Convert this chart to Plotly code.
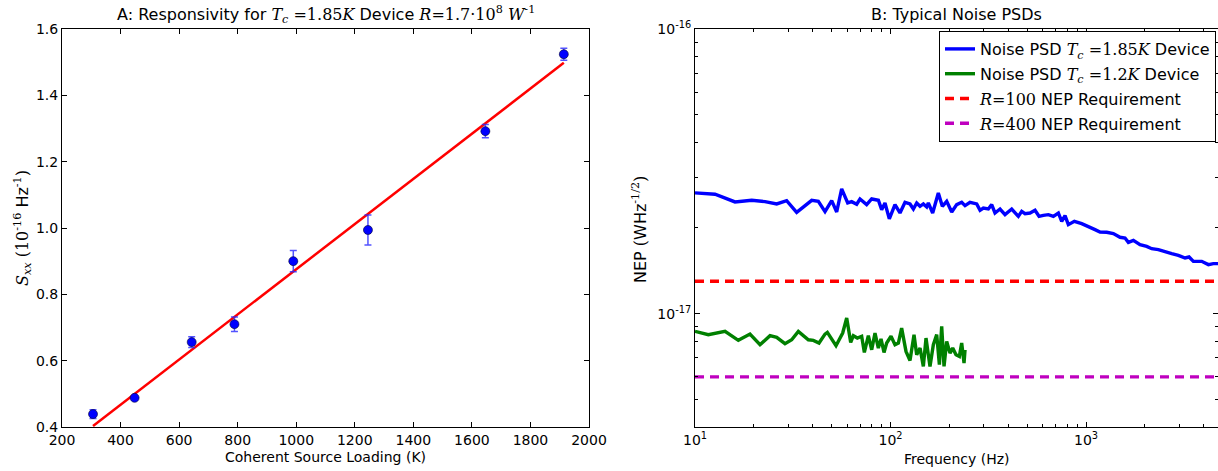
import plotly.graph_objects as go

# ---------------- Panel A: responsivity ----------------
loading_K = [306, 448, 643, 789, 990, 1245, 1646, 1914]
sxx = [0.439, 0.488, 0.656, 0.710, 0.900, 0.994, 1.292, 1.524]
sxx_err = [0.013, 0.005, 0.016, 0.022, 0.032, 0.045, 0.020, 0.018]
fit_K = [306, 1914]
fit_sxx = [0.403, 1.498]

# ---------------- Panel B: noise PSDs (NEP in units of 1e-17 W/Hz^0.5) ----------------
freq_185 = [10, 12.66, 16.02, 19.50, 22.81, 26.17, 29.43, 33.11, 39.53, 42.74, 46.24, 50.02, 53.05,
            56.26, 60.39, 63.30, 67.14,
            69.8, 75.5, 80.1, 86.7, 90.1, 93.7, 98.6, 105.4, 111.8, 118.6,
            125.8, 130.9, 136.1, 141.6, 147.2, 153.1, 156.1, 164.3, 175.6, 184.1,
            193.8, 205.6, 218.0, 231.2, 240.5, 255.0, 276.0, 287.0, 298.4, 316.5,
            329.2, 342.3, 363.2, 385.2, 416.8, 450.7, 468.8, 487.5, 517.1, 548.4,
            575.0, 605.1, 641.8, 680.7, 722.0, 750.9, 780.8, 812.1, 871.5, 950.2,
            1027.8, 1111.7, 1179.2, 1275.6, 1379.8, 1492.5, 1583.1, 1646.4, 1746.5, 1889.2,
            2043.6, 2167.7, 2344.2, 2535.7, 2742.6, 2966.8, 3209.2, 3365.0, 3540.8, 3906.0,
            4225.3, 4479.6, 4733]
nep_185 = [2.656, 2.627, 2.469, 2.502, 2.475, 2.429, 2.495, 2.271, 2.502, 2.482, 2.283, 2.495, 2.277,
           2.744, 2.449, 2.475, 2.423,
           2.529, 2.416, 2.529, 2.502, 2.320, 2.449, 2.152, 2.416, 2.258, 2.462,
           2.429, 2.332, 2.449, 2.384, 2.429, 2.371, 2.449, 2.258, 2.656, 2.384,
           2.482, 2.277, 2.416, 2.462, 2.397, 2.462, 2.429, 2.307, 2.351, 2.332,
           2.416, 2.258, 2.332, 2.228, 2.332, 2.198, 2.289, 2.246, 2.258, 2.307,
           2.198, 2.216, 2.228, 2.198, 2.258, 2.111, 2.210, 2.055, 2.111, 2.071,
           2.028, 1.974, 1.937, 1.932, 1.911, 1.855, 1.845, 1.781, 1.810, 1.748,
           1.724, 1.692, 1.679, 1.647, 1.625, 1.603, 1.569, 1.582, 1.527, 1.527,
           1.487, 1.499, 1.499]

freq_12 = [10, 11.70, 14.24, 16.66, 19.11, 21.50, 24.19, 26.17, 28.86, 31.23, 33.77, 37.99, 40.30,
           43.09, 46.24,
           47.53, 52.63, 56.93, 59.68, 62.56, 64.55, 67.66, 71.21, 73.48, 77.02,
           80.12, 83.30, 86.65, 89.41, 92.63, 95.59, 100.6, 105.4, 109.7, 114.0,
           120.0, 125.8, 131.9, 136.1, 141.6, 147.2, 151.9, 156.1, 159.2, 165.6,
           172.3, 177.8, 182.7, 187.8, 193.8, 201.5, 208.0, 216.3, 225.0, 231.2,
           237.7, 240.5]
nep_12 = [0.867, 0.844, 0.867, 0.806, 0.848, 0.778, 0.837, 0.826, 0.785, 0.810, 0.867, 0.810, 0.806,
          0.789, 0.848,
          0.860, 0.772, 0.855, 0.966, 0.793, 0.837, 0.821, 0.833, 0.731, 0.837,
          0.747, 0.855, 0.757, 0.815, 0.731, 0.789, 0.833, 0.778, 0.789, 0.890,
          0.737, 0.685, 0.844, 0.718, 0.757, 0.653, 0.821, 0.718, 0.653, 0.778,
          0.844, 0.662, 0.903, 0.653, 0.799, 0.727, 0.757, 0.718, 0.708, 0.789,
          0.671, 0.747]
nep_unit = 1e-17

req_freq = [10, 4733]
nep_req_R100 = 1.3e-17
nep_req_R400 = 6.0e-18

xticks_A = [200, 400, 600, 800, 1000, 1200, 1400, 1600, 1800, 2000]
yticks_A = [0.4, 0.6, 0.8, 1.0, 1.2, 1.4, 1.6]
xticks_B = [10, 100, 1000]
xticktext_B = ["10<sup>1</sup>", "10<sup>2</sup>", "10<sup>3</sup>"]
yticks_B = [1e-17, 1e-16]
yticktext_B = ["10<sup>-17</sup>", "10<sup>-16</sup>"]

W, H = 1218, 471
SANS = "DejaVu Sans"
M = 'style="font-family:DejaVu Serif"'


def m(s):
    return f'<span {M}>{s}</span>'


fig = go.Figure()

fig.add_trace(go.Scatter(
    x=fit_K, y=fit_sxx, mode="lines", line=dict(color="#ff0000", width=2.5),
    showlegend=False, xaxis="x", yaxis="y"))
fig.add_trace(go.Scatter(
    x=loading_K, y=sxx, mode="markers",
    marker=dict(color="#0000ff", size=9, line=dict(color="#000033", width=0.6)),
    error_y=dict(type="data", array=sxx_err, color="rgba(40,40,255,0.8)", thickness=1.5, width=3.5),
    showlegend=False, xaxis="x", yaxis="y"))

fig.add_trace(go.Scatter(
    x=freq_185, y=[v * nep_unit for v in nep_185], mode="lines",
    line=dict(color="#0000ff", width=3.4),
    name="Noise PSD " + m("<i>T<sub>c</sub></i> =1.85<i>K</i>") + " Device",
    legendgroup="a", xaxis="x2", yaxis="y2"))
fig.add_trace(go.Scatter(
    x=freq_12, y=[v * nep_unit for v in nep_12], mode="lines",
    line=dict(color="#008000", width=3.4),
    name="Noise PSD " + m("<i>T<sub>c</sub></i> =1.2<i>K</i>") + " Device",
    legendgroup="b", xaxis="x2", yaxis="y2"))
fig.add_trace(go.Scatter(
    x=req_freq, y=[nep_req_R100] * len(req_freq), mode="lines",
    line=dict(color="#ff0000", width=3.4, dash="9px,6px"),
    name=m("<i>R</i>=100") + " NEP Requirement",
    legendgroup="c", xaxis="x2", yaxis="y2"))
fig.add_trace(go.Scatter(
    x=req_freq, y=[nep_req_R400] * len(req_freq), mode="lines",
    line=dict(color="#bf00bf", width=3.4, dash="9px,6px"),
    name=m("<i>R</i>=400") + " NEP Requirement",
    legendgroup="d", xaxis="x2", yaxis="y2"))

top_px, bot_px = 29, 427
ydom = [(H - bot_px) / H, (H - top_px) / H]
axis_common = dict(showline=True, linecolor="black", linewidth=1, mirror="ticks",
                   ticks="inside", ticklen=5, tickcolor="black", showgrid=False, zeroline=False,
                   automargin=False,
                   tickfont=dict(family=SANS, size=14, color="black"))

minor_x = [v * d for d in (10, 100, 1000) for v in range(2, 10)]
minor_y = [v * d for d in (1e-18, 1e-17) for v in range(2, 10)]

fig.update_layout(
    template="none",
    width=W, height=H, margin=dict(l=0, r=0, t=0, b=0, pad=0, autoexpand=False),
    paper_bgcolor="white", plot_bgcolor="white",
    font=dict(family=SANS, size=14, color="black"),
    xaxis=dict(domain=[62 / W, 589 / W], range=[200, 2000], tickvals=xticks_A,
               anchor="y", **axis_common),
    yaxis=dict(domain=ydom, range=[0.4, 1.6], tickvals=yticks_A, tickformat=".1f",
               anchor="x", **axis_common),
    xaxis2=dict(domain=[695 / W, 1.0], type="log", range=[1, 3.675], tickvals=xticks_B,
                ticktext=xticktext_B, anchor="y2",
                minor=dict(ticks="inside", ticklen=3, tickcolor="black", tickvals=minor_x),
                **axis_common),
    yaxis2=dict(domain=ydom, type="log", range=[-17.398, -16], tickvals=yticks_B,
                ticktext=yticktext_B, anchor="x2",
                minor=dict(ticks="inside", ticklen=3, tickcolor="black", tickvals=minor_y),
                **axis_common),
    legend=dict(x=1216 / W, xanchor="right", y=(H - 31) / H, yanchor="top",
                bgcolor="white", bordercolor="black", borderwidth=1,
                font=dict(family=SANS, size=16, color="black"),
                tracegroupgap=1, itemwidth=30),
)

ann = []
ann.append(dict(text="A: Responsivity for " + m("<i>T<sub>c</sub></i> =1.85<i>K</i>") + " Device "
                + m("<i>R</i>=1.7·10<sup>8</sup> <i>W</i><sup>-1</sup>"),
                x=(62 + 589) / 2 / W, y=(H - 15) / H, xref="paper", yref="paper",
                xanchor="center", yanchor="middle", showarrow=False,
                font=dict(family=SANS, size=16)))
ann.append(dict(text="B: Typical Noise PSDs",
                x=(695 + 1218) / 2 / W, y=(H - 15) / H, xref="paper", yref="paper",
                xanchor="center", yanchor="middle", showarrow=False,
                font=dict(family=SANS, size=16)))
ann.append(dict(text="Coherent Source Loading (K)", x=(62 + 589) / 2 / W, y=(H - 457) / H,
                xref="paper", yref="paper", xanchor="center", yanchor="middle",
                showarrow=False, font=dict(family=SANS, size=14)))
ann.append(dict(text="Frequency (Hz)", x=(695 + 1218) / 2 / W, y=(H - 459) / H,
                xref="paper", yref="paper", xanchor="center", yanchor="middle",
                showarrow=False, font=dict(family=SANS, size=14)))
ann.append(dict(text=m("<i>S<sub>xx</sub></i> (10<sup>-16</sup>") + " Hz" + m("<sup>-1</sup>)"),
                x=22 / W, y=(H - 228) / H, xref="paper", yref="paper",
                xanchor="center", yanchor="middle", textangle=-90,
                showarrow=False, font=dict(family=SANS, size=16)))
ann.append(dict(text="NEP " + m("(") + "WHz" + m("<sup>-1/2</sup>)"),
                x=639 / W, y=(H - 230) / H, xref="paper", yref="paper",
                xanchor="center", yanchor="middle", textangle=-90,
                showarrow=False, font=dict(family=SANS, size=16)))
fig.update_layout(annotations=ann)

fig.write_html("out.html")
